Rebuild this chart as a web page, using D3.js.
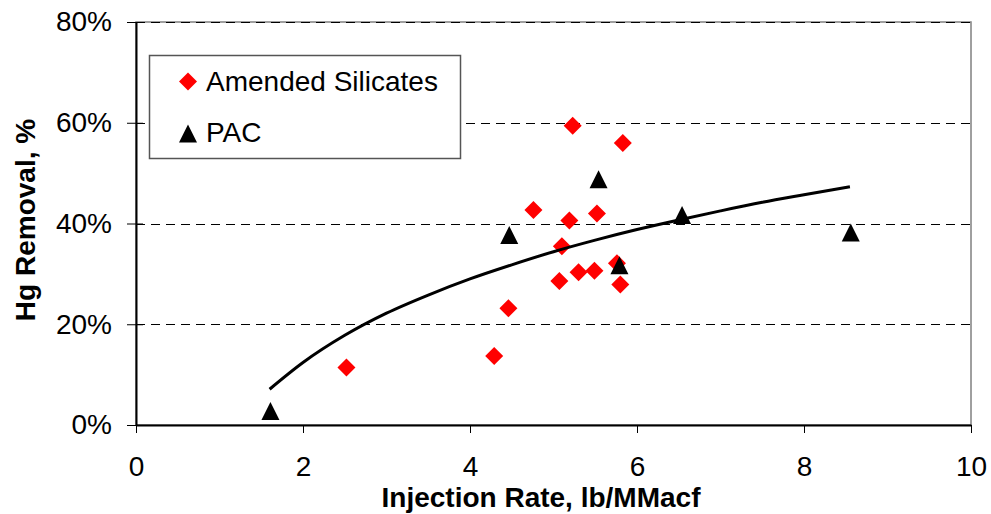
<!DOCTYPE html>
<html>
<head>
<meta charset="utf-8">
<script src="https://cdn.jsdelivr.net/npm/d3@7"></script>
<style>
  body { margin: 0; background: #fff; }
  svg { display: block; font-family: "Liberation Sans", Arial, sans-serif; }
  .tick text { font-size: 28px; fill: #000; }
  .axis-title { font-size: 28px; font-weight: bold; }
  .legend-text { font-size: 28px; }
</style>
</head>
<body>
<div class="chart"></div>
<script>
// Hg removal vs injection rate

// Amended Silicates (red diamonds)
var silicateX = [2.52, 4.29, 4.46, 4.76, 5.19, 5.52, 5.10, 5.07, 5.30, 5.49, 5.76, 5.80, 5.23, 5.83];
var silicateY = [11.4, 13.7, 23.2, 42.7, 40.6, 42.0, 35.5, 28.6, 30.3, 30.6, 32.1, 27.9, 59.4, 56.0];

// PAC (black triangles)
var pacX = [1.61, 4.47, 5.54, 5.79, 6.54, 8.56];
var pacY = [2.8, 37.7, 48.8, 31.7, 41.7, 38.2];

// trend line
var trendX = [1.6, 2, 2.5, 3, 3.5, 4, 4.5, 5, 5.5, 6, 6.5, 7, 7.5, 8, 8.55];
var trendY = [7.1, 12.4, 17.8, 22.2, 25.8, 29.0, 31.8, 34.4, 36.7, 38.8, 40.7, 42.5, 44.2, 45.7, 47.3];

var xTicks = [0, 2, 4, 6, 8, 10];
var yTicks = [0, 20, 40, 60, 80];
var legendLabels = ["Amended Silicates", "PAC"];

var svgWidth = 991;
var svgHeight = 514;

var margin = { top: 22, right: 20, bottom: 89, left: 136 };

var width = svgWidth - margin.left - margin.right;
var height = svgHeight - margin.top - margin.bottom;

var svg = d3.select(".chart")
  .append("svg")
  .attr("width", svgWidth)
  .attr("height", svgHeight);

var chart = svg.append("g")
  .attr("transform", "translate(" + margin.left + "," + margin.top + ")");

var xScale = d3.scaleLinear().domain([0, 10]).range([0, width]);
var yScale = d3.scaleLinear().domain([0, 80]).range([height, 0]);

// plot area border (gray)
chart.append("rect")
  .attr("x", 0)
  .attr("y", 0)
  .attr("width", width)
  .attr("height", height)
  .attr("fill", "none")
  .attr("stroke", "#808080")
  .attr("stroke-width", 1.5);

// dashed gridlines
chart.selectAll(".grid")
  .data(yTicks.slice(1))
  .enter().append("line")
    .attr("class", "grid")
    .attr("x1", 0)
    .attr("x2", width)
    .attr("y1", function(d) { return Math.round(yScale(d)) + 0.5; })
    .attr("y2", function(d) { return Math.round(yScale(d)) + 0.5; })
    .attr("stroke", "#000")
    .attr("stroke-width", 1)
    .attr("stroke-dasharray", "9,6");

// axes
var bottomAxis = d3.axisBottom(xScale)
  .tickValues(xTicks)
  .tickSizeInner(8)
  .tickSizeOuter(0)
  .tickPadding(23);

var leftAxis = d3.axisLeft(yScale)
  .tickValues(yTicks)
  .tickFormat(function(d) { return d + "%"; })
  .tickSizeInner(9)
  .tickSizeOuter(0)
  .tickPadding(15);

var xAxisG = chart.append("g")
  .attr("transform", "translate(0," + height + ")")
  .call(bottomAxis);

var yAxisG = chart.append("g")
  .call(leftAxis);

[xAxisG, yAxisG].forEach(function(g) {
  g.select(".domain").attr("stroke", "#000").attr("stroke-width", 2);
  g.selectAll(".tick line").attr("stroke", "#000").attr("stroke-width", 1);
});

// y ticks cross the axis
yAxisG.selectAll(".tick line").attr("x2", 7).attr("x1", -9);

// markers
var diamond = d3.symbol().type(d3.symbolSquare).size(162);
var triangle = "M0,-9L9,9L-9,9Z";

chart.selectAll(".silicate")
  .data(silicateX)
  .enter().append("path")
    .attr("class", "silicate")
    .attr("d", diamond)
    .attr("transform", function(d, i) {
      return "translate(" + xScale(d) + "," + yScale(silicateY[i]) + ") rotate(45)";
    })
    .attr("fill", "#ff0000");

var line = d3.line()
  .x(function(d) { return xScale(d); })
  .y(function(d, i) { return yScale(trendY[i]); })
  .curve(d3.curveMonotoneX);

chart.append("path")
  .datum(trendX)
  .attr("d", line)
  .attr("fill", "none")
  .attr("stroke", "#000")
  .attr("stroke-width", 3);

chart.selectAll(".pac")
  .data(pacX)
  .enter().append("path")
    .attr("class", "pac")
    .attr("d", triangle)
    .attr("transform", function(d, i) {
      return "translate(" + xScale(d) + "," + yScale(pacY[i]) + ")";
    })
    .attr("fill", "#000");

// axis titles
svg.append("text")
  .attr("class", "axis-title")
  .attr("x", 541)
  .attr("y", 507)
  .attr("text-anchor", "middle")
  .text("Injection Rate, lb/MMacf");

svg.append("text")
  .attr("class", "axis-title")
  .attr("transform", "translate(35,220) rotate(-90)")
  .attr("text-anchor", "middle")
  .text("Hg Removal, %");

// legend
var legend = svg.append("g");

legend.append("rect")
  .attr("x", 149.5)
  .attr("y", 55.5)
  .attr("width", 311)
  .attr("height", 103)
  .attr("fill", "#fff")
  .attr("stroke", "#555")
  .attr("stroke-width", 1.5);

legend.append("path")
  .attr("d", diamond)
  .attr("transform", "translate(188,81.5) rotate(45)")
  .attr("fill", "#ff0000");

legend.append("path")
  .attr("d", triangle)
  .attr("transform", "translate(188,133.5)")
  .attr("fill", "#000");

legend.selectAll(".legend-text")
  .data(legendLabels)
  .enter().append("text")
    .attr("class", "legend-text")
    .attr("x", 206)
    .attr("y", function(d, i) { return 91 + i * 51; })
    .text(function(d) { return d; });
</script>
</body>
</html>
